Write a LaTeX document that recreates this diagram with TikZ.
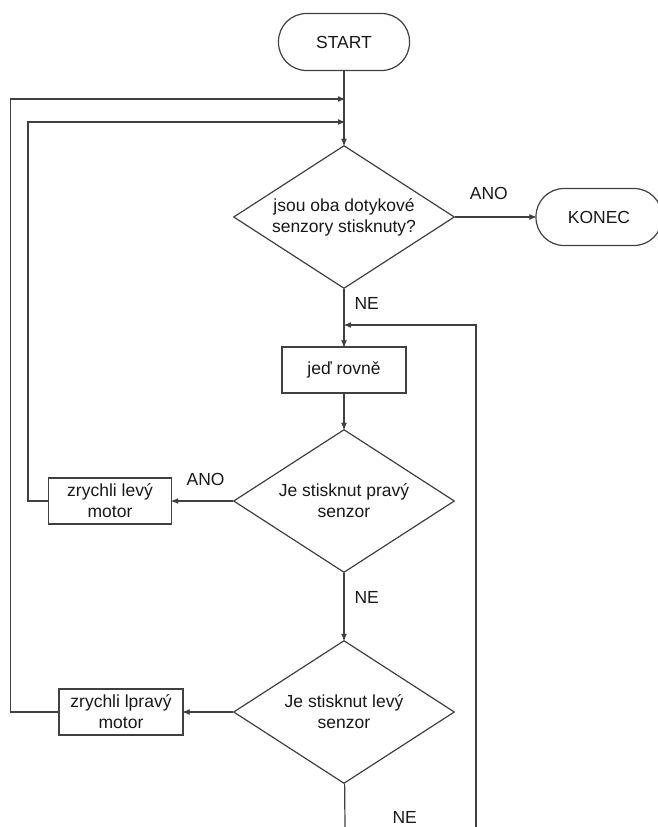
\documentclass[tikz,border=0pt]{standalone}
\usepackage{fontspec}
\setmainfont{Liberation Sans}
\usetikzlibrary{arrows,shapes.geometric,positioning}

\begin{document}
\begin{tikzpicture}[->,>=stealth',auto,x=1pt,y=-1pt,line width=1.2pt,
			color=black!75,font=\fontsize{17.5}{21}\selectfont,
			term node/.style={rectangle,rounded corners=28pt,draw,fill=white,
				text=black!90,minimum width=131pt,minimum height=57pt},
			dec node/.style={diamond,aspect=1.6,draw,fill=white,text=black!90,align=center,
				inner sep=0pt,minimum width=221pt,minimum height=143pt},
			act node/.style={rectangle,draw,fill=white,text=black!90,align=center,
				inner sep=1pt,minimum width=124pt,minimum height=46pt}
			]
			\useasboundingbox (0,0) rectangle (657,827);
			
			\node[term node] (START) at (344,42) {START};
			\node[dec node] (D1) [below of=START, node distance=175pt] {jsou oba dotykové\\senzory stisknuty?};
			\node[term node] (KONEC) [right of=D1, node distance=255pt, minimum width=126pt] {KONEC};
			\node[act node] (RIDE) [below of=D1, node distance=153pt] {jeď rovně};
			\node[dec node] (D2) [below of=RIDE, node distance=131pt] {Je stisknut pravý\\senzor};
			\node[act node] (LEFT) [left of=D2, node distance=234pt, minimum width=123pt] {zrychli levý\\motor};
			\node[dec node] (D3) [below of=D2, node distance=211pt] {Je stisknut levý\\senzor};
			\node[act node] (RIGHT) [left of=D3, node distance=223pt] {zrychli lpravý\\motor};
			
			\coordinate (J1) at (344,99);
			\coordinate (J2) at (344,122);
			\coordinate (J3) at (345,325);
			\coordinate (E1) at (345,827);
			\coordinate (E2) at (476,827);
			
			\path[every node/.style={text=black!90,inner sep=1pt}]
			(START) edge (D1)
			(D1) edge node[above=16pt,pos=0.42] {ANO} (KONEC)
			(D1) edge node[right=9pt,pos=0.25] {NE} (RIDE)
			(RIDE) edge (D2)
			(D2) edge node[above=14pt,pos=0.45] {ANO} (LEFT)
			(D2) edge node[right=9pt,pos=0.36] {NE} (D3)
			(D3) edge (RIGHT)
			(D3) edge[-] node[right=46pt,pos=0.79] {NE} (E1)
			;
			
			\draw (LEFT.west) -- ++(-20,0) |- (J2);
			\draw (RIGHT.west) -- ++(-48,0) |- (J1);
			\draw (E2) |- (J3);
			
		\end{tikzpicture}
\end{document}
